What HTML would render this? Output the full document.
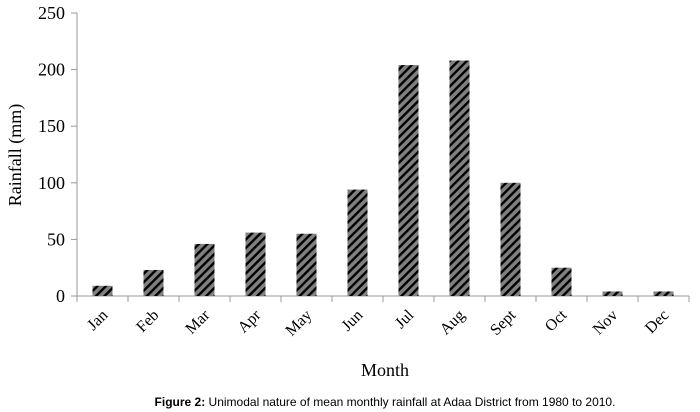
<!DOCTYPE html>
<html><head><meta charset="utf-8"><style>
body{margin:0;background:#fff;}
svg{display:block;}
.t{font-family:"Liberation Serif",serif;fill:#000;}
</style></head><body>
<svg width="700" height="412" viewBox="0 0 700 412">
<defs>
<pattern id="hatch" width="6" height="6" patternUnits="userSpaceOnUse" patternTransform="rotate(45)">
<rect width="6" height="6" fill="#808080"/>
<rect width="2.4" height="6" fill="#000"/>
</pattern>
</defs>
<g id="plot"></g>
<text class="t" x="385" y="376" font-size="18" text-anchor="middle">Month</text>
<text class="t" transform="translate(21,155) rotate(-90)" font-size="18" text-anchor="middle">Rainfall (mm)</text>
<text x="385" y="406" font-size="12" text-anchor="middle" font-family="Liberation Sans, sans-serif"><tspan font-weight="bold">Figure 2:</tspan> Unimodal nature of mean monthly rainfall at Adaa District from 1980 to 2010.</text>
</svg>
<script>
const categories=["Jan","Feb","Mar","Apr","May","Jun","Jul","Aug","Sept","Oct","Nov","Dec"];
const rainfall=[9,23,46,56,55,94,204,208,100,25,4,4];
const yTicks=[0,50,100,150,200,250];
const NS="http://www.w3.org/2000/svg";
const g=document.getElementById('plot');
const x0=77,x1=689,y0=296,y1=13,yMax=250;
const band=(x1-x0)/categories.length;
const ys=v=>y0-(v/yMax)*(y0-y1);
const xs=i=>x0+band*(i+0.5);
function mk(tag,attrs){const e=document.createElementNS(NS,tag);for(const k in attrs)e.setAttribute(k,attrs[k]);g.appendChild(e);return e;}
let a=mk('line',{x1:x0,y1:y1,x2:x0,y2:y0,stroke:'#999','stroke-width':1});


a=mk('line',{x1:x0,y1:y0,x2:x1,y2:y0,stroke:'#999','stroke-width':1});


yTicks.forEach(v=>{
 const t=mk('line',{x1:x0-6,x2:x0,y1:ys(v),y2:ys(v),stroke:'#999'});
 
 
 const l=mk('text',{x:x0-12,y:ys(v)+6,'font-size':18,'text-anchor':'end',class:'t'});
 l.textContent=v;
 
 
});
for(let i=0;i<=categories.length;i++){
 const t=mk('line',{x1:x0+band*i,x2:x0+band*i,y1:y0,y2:y0+6,stroke:'#999'});
 
 
}
categories.forEach((c,i)=>{
 const cx=xs(i),v=rainfall[i];
 const b=mk('rect',{x:cx-10,y:ys(v),width:20,height:y0-ys(v),fill:'url(#hatch)'});
 
 
 const l=mk('text',{transform:`translate(${cx+6},${y0+20}) rotate(-45)`,'font-size':16,'text-anchor':'end',class:'t'});
 l.textContent=c;
 
 
});
</script>
</body></html>
